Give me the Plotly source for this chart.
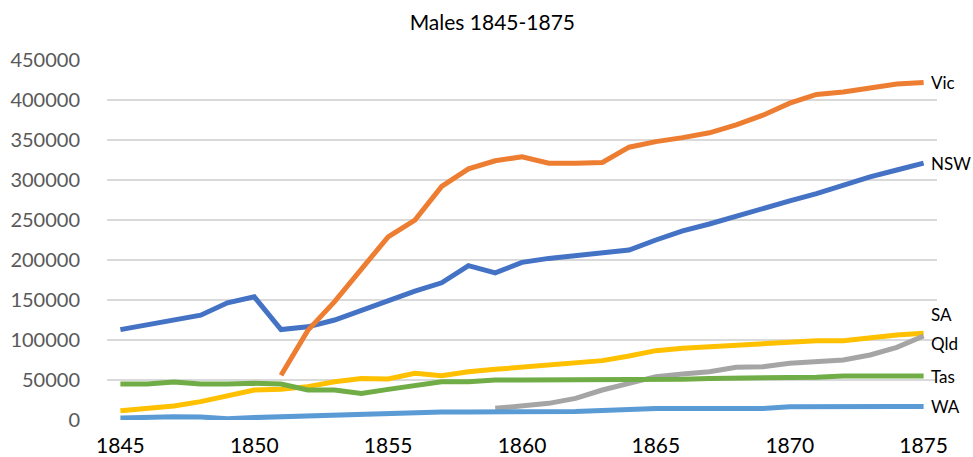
import plotly.graph_objects as go

years = list(range(1845, 1876))

nsw = [113000, 119000, 125000, 131000, 146500, 154000, 113000, 116500, 125000, 137500,
       150000, 161000, 171500, 193000, 184000, 197000, 202000, 205000, 208000, 212500,
       225000, 236500, 245000, 255000, 264500, 274000, 283000, 293500, 304000, 312500, 321000]
vic = [None] * 6 + [56000, 112000, 148000, 189000, 229000, 250000, 292000, 314000, 324000,
       329000, 321000, 321000, 322000, 341000, 348000, 353000, 359000, 369000, 381000,
       396000, 407000, 410000, 415000, 420000, 422000]
sa = [11700, 14600, 17500, 23000, 30000, 37500, 38300, 41700, 47900, 52000, 51250, 58300,
      55400, 60400, 63300, 65800, 68300, 70800, 74200, 80000, 86700, 89600, 91700, 92900,
      95000, 97100, 99200, 99200, 103300, 106250, 108300]
qld = [None] * 14 + [14600, 17500, 20800, 27000, 37500, 45800, 54200, 57500, 60400, 65800,
       66700, 70800, 72900, 75000, 81250, 90800, 105000]
tas = [45000, 45000, 47500, 45000, 45000, 45800, 45000, 37500, 37500, 33300, 38300, 42500,
       47900, 47900, 50000, 50000, 50000, 50000, 50000, 50000, 50000, 51000, 52000, 52000,
       52000, 52000, 53500, 55000, 55000, 55000, 55000]
wa = [2500, 3500, 4000, 3800, 1500, 3000, 4000, 6000, 7000, 7500, 8500, 9500, 10000, 10000,
      10000, 10000, 10000, 10500, 12000, 13500, 14500, 14500, 14500, 14500, 14500, 16500,
      17000, 17000, 17000, 17000, 17000]

series_names = ["NSW", "Vic", "SA", "Qld", "Tas", "WA"]
series_values = [nsw, vic, sa, qld, tas, wa]
colors = ["#4472C4", "#ED7D31", "#FFC000", "#A5A5A5", "#70AD47", "#5B9BD5"]
label_shift = {"NSW": 0, "Vic": 0, "SA": 19, "Qld": -7, "Tas": 0, "WA": 0}

x_ticks = [1845, 1850, 1855, 1860, 1865, 1870, 1875]
y_ticks = [0, 50000, 100000, 150000, 200000, 250000, 300000, 350000, 400000, 450000]

FONT = "Lato, 'Open Sans', sans-serif"

fig = go.Figure()
for name, vals, col in zip(series_names, series_values, colors):
    fig.add_trace(go.Scatter(x=years, y=vals, mode="lines", name=name,
                             line=dict(color=col, width=5), connectgaps=False))

annotations = []
for name, vals in zip(series_names, series_values):
    annotations.append(dict(x=years[-1], y=vals[-1], xref="x", yref="y", text=name,
                            showarrow=False, xanchor="left", yanchor="middle",
                            xshift=5, yshift=label_shift[name],
                            font=dict(family=FONT, size=17, color="#000000")))

fig.update_layout(
    width=973, height=457,
    margin=dict(l=107, r=36, t=60, b=37, autoexpand=False),
    paper_bgcolor="white", plot_bgcolor="white",
    showlegend=False,
    title=dict(text="Males 1845-1875", x=0.506, xref="container", xanchor="center",
               y=0.95, yref="container", yanchor="middle",
               font=dict(family=FONT, size=21, color="#000000")),
    annotations=annotations,
    font=dict(family=FONT),
)
fig.update_xaxes(range=[1844.5, 1875.5], tickvals=x_ticks, ticktext=[str(t) for t in x_ticks],
                 showgrid=False, zeroline=False, showline=False, ticks="",
                 ticklabelstandoff=11, automargin=False,
                 tickfont=dict(family=FONT, size=21, color="#000000"))
fig.update_yaxes(range=[0, 450000], tickvals=y_ticks, ticktext=[str(t) for t in y_ticks],
                 showgrid=True, gridcolor="#D9D9D9", gridwidth=1.5, zeroline=False,
                 showline=False, ticks="", ticklabelstandoff=26, automargin=False,
                 tickfont=dict(family=FONT, size=20, color="#595959"))

fig.write_html("out.html", config={"displayModeBar": False},
               post_script="document.body.style.margin='0';document.body.style.padding='0';")
